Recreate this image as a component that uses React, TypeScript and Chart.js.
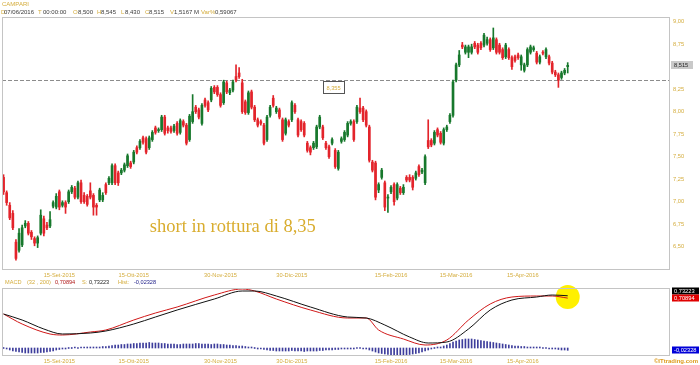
import React, { useEffect, useRef } from 'react';
import { Chart, registerables } from 'chart.js';

Chart.register(...registerables);

// ---------- DATA ----------
const opens = [
  7.27, 7.10, 6.96, 6.87, 6.55, 6.46, 6.52, 6.73, 6.76, 6.66,
  6.59, 6.54, 6.65, 6.81, 6.74, 6.73, 6.95, 6.94, 7.11, 6.96,
  6.99, 7.00, 7.11, 7.15, 7.05, 7.21, 7.07, 7.06, 7.12, 7.07,
  6.96, 7.02, 7.02, 7.19, 7.21, 7.21, 7.40, 7.32, 7.32, 7.35,
  7.40, 7.43, 7.44, 7.60, 7.60, 7.71, 7.70, 7.60, 7.69, 7.82,
  7.79, 7.80, 7.94, 7.82, 7.82, 7.79, 7.87, 7.77, 7.89, 7.85,
  7.69, 7.89, 8.05, 8.02, 7.87, 8.13, 8.10, 8.13, 8.27, 8.27,
  8.19, 8.10, 8.32, 8.21, 8.24, 8.39, 8.43, 8.32, 8.11, 7.99,
  8.22, 8.05, 7.91, 7.89, 7.85, 7.69, 7.96, 8.15, 8.00, 8.02,
  7.91, 7.76, 7.89, 7.91, 8.07, 7.91, 7.89, 7.87, 7.65, 7.60,
  7.60, 7.61, 7.83, 7.83, 7.65, 7.61, 7.65, 7.57, 7.37, 7.67,
  7.69, 7.74, 7.87, 7.89, 7.89, 8.04, 8.04, 8.00, 7.83, 7.44,
  7.43, 7.13, 7.27, 7.21, 7.04, 7.11, 7.19, 7.04, 7.15, 7.10,
  7.27, 7.27, 7.27, 7.26, 7.39, 7.33, 7.21, 7.68, 7.68, 7.65,
  7.80, 7.76, 7.65, 7.80, 7.89, 7.96, 8.35, 8.52, 8.74, 8.66,
  8.66, 8.66, 8.76, 8.74, 8.76, 8.74, 8.76, 8.80, 8.71, 8.80,
  8.74, 8.69, 8.61, 8.69, 8.60, 8.61, 8.63, 8.52, 8.46, 8.52,
  8.66, 8.69, 8.65, 8.55, 8.66, 8.61, 8.61, 8.54, 8.44, 8.41,
  8.38, 8.43, 8.50,
];
const closes = [
  7.11, 6.99, 6.82, 6.71, 6.37, 6.65, 6.71, 6.76, 6.65, 6.61,
  6.54, 6.60, 6.85, 6.65, 6.71, 6.80, 6.99, 7.06, 6.94, 6.99,
  6.94, 7.11, 7.16, 7.05, 7.21, 7.00, 7.00, 6.97, 7.05, 6.94,
  6.94, 7.13, 7.07, 7.10, 7.26, 7.40, 7.21, 7.21, 7.35, 7.41,
  7.51, 7.39, 7.55, 7.55, 7.67, 7.66, 7.55, 7.71, 7.77, 7.77,
  7.80, 7.94, 7.76, 7.79, 7.78, 7.84, 7.76, 7.90, 7.85, 7.65,
  7.95, 8.00, 8.00, 7.94, 8.07, 8.07, 8.02, 8.26, 8.22, 8.19,
  8.07, 8.33, 8.22, 8.24, 8.33, 8.35, 8.39, 8.00, 7.99, 8.21,
  8.05, 7.91, 7.85, 7.87, 7.65, 7.94, 8.05, 8.07, 8.04, 7.94,
  7.69, 7.91, 7.85, 8.10, 8.00, 7.74, 7.80, 7.74, 7.57, 7.55,
  7.65, 7.83, 7.94, 7.71, 7.60, 7.50, 7.69, 7.39, 7.55, 7.70,
  7.77, 7.87, 7.89, 7.69, 8.05, 8.00, 7.91, 7.85, 7.46, 7.35,
  7.05, 7.19, 7.35, 6.94, 7.05, 7.16, 7.00, 7.19, 7.10, 7.16,
  7.24, 7.24, 7.16, 7.32, 7.30, 7.35, 7.50, 7.61, 7.63, 7.77,
  7.74, 7.66, 7.80, 7.83, 7.96, 8.33, 8.52, 8.63, 8.72, 8.72,
  8.72, 8.72, 8.72, 8.66, 8.71, 8.85, 8.80, 8.69, 8.82, 8.66,
  8.66, 8.60, 8.74, 8.60, 8.50, 8.57, 8.60, 8.61, 8.52, 8.69,
  8.72, 8.71, 8.55, 8.61, 8.65, 8.69, 8.54, 8.44, 8.41, 8.35,
  8.43, 8.46, 8.515,
];
const highs = [
  7.30, 7.12, 6.99, 6.90, 6.58, 6.70, 6.74, 6.79, 6.78, 6.68,
  6.61, 6.62, 6.91, 6.84, 6.77, 6.89, 7.01, 7.09, 7.13, 7.01,
  7.01, 7.13, 7.18, 7.17, 7.23, 7.24, 7.10, 7.08, 7.21, 7.09,
  6.98, 7.15, 7.10, 7.21, 7.28, 7.42, 7.42, 7.34, 7.37, 7.43,
  7.53, 7.45, 7.57, 7.62, 7.69, 7.73, 7.72, 7.73, 7.79, 7.84,
  7.82, 7.96, 7.96, 7.84, 7.84, 7.86, 7.89, 7.92, 7.91, 7.87,
  7.97, 8.19, 8.07, 8.04, 8.09, 8.15, 8.12, 8.28, 8.29, 8.29,
  8.21, 8.35, 8.34, 8.26, 8.35, 8.52, 8.49, 8.36, 8.13, 8.23,
  8.24, 8.07, 7.93, 7.91, 7.87, 7.96, 8.07, 8.18, 8.06, 8.04,
  7.93, 7.93, 7.91, 8.12, 8.09, 7.93, 7.91, 7.89, 7.67, 7.62,
  7.67, 7.85, 7.96, 7.85, 7.67, 7.63, 7.71, 7.59, 7.57, 7.72,
  7.79, 7.89, 7.91, 7.91, 8.07, 8.15, 8.06, 8.02, 7.85, 7.46,
  7.45, 7.21, 7.37, 7.23, 7.08, 7.18, 7.21, 7.21, 7.17, 7.19,
  7.29, 7.30, 7.29, 7.34, 7.41, 7.37, 7.52, 7.91, 7.70, 7.79,
  7.82, 7.78, 7.82, 7.85, 7.98, 8.35, 8.54, 8.68, 8.77, 8.74,
  8.74, 8.75, 8.78, 8.76, 8.78, 8.87, 8.83, 8.82, 8.93, 8.82,
  8.76, 8.71, 8.76, 8.71, 8.62, 8.63, 8.65, 8.63, 8.54, 8.71,
  8.74, 8.73, 8.67, 8.63, 8.68, 8.71, 8.63, 8.56, 8.46, 8.43,
  8.45, 8.48, 8.545,
];
const lows = [
  7.08, 6.96, 6.80, 6.69, 6.35, 6.44, 6.50, 6.71, 6.63, 6.58,
  6.51, 6.49, 6.63, 6.62, 6.69, 6.71, 6.93, 6.92, 6.91, 6.94,
  6.87, 6.98, 7.09, 7.03, 7.03, 6.98, 6.98, 6.95, 7.03, 6.85,
  6.85, 7.00, 7.00, 7.08, 7.19, 7.19, 7.19, 7.18, 7.30, 7.33,
  7.38, 7.37, 7.42, 7.53, 7.58, 7.64, 7.53, 7.58, 7.67, 7.75,
  7.77, 7.78, 7.74, 7.76, 7.76, 7.77, 7.74, 7.75, 7.83, 7.63,
  7.67, 7.87, 7.98, 7.92, 7.85, 8.05, 8.00, 8.11, 8.20, 8.17,
  8.05, 8.08, 8.20, 8.19, 8.22, 8.33, 8.37, 7.98, 7.97, 7.97,
  8.03, 7.89, 7.83, 7.85, 7.63, 7.67, 7.94, 8.05, 7.98, 7.92,
  7.67, 7.74, 7.83, 7.89, 7.98, 7.72, 7.78, 7.72, 7.55, 7.52,
  7.58, 7.59, 7.81, 7.69, 7.58, 7.48, 7.63, 7.37, 7.35, 7.65,
  7.67, 7.72, 7.85, 7.67, 7.87, 7.98, 7.89, 7.83, 7.44, 7.33,
  7.02, 7.10, 7.25, 6.90, 6.88, 7.09, 6.96, 7.02, 7.08, 7.08,
  7.22, 7.22, 7.13, 7.24, 7.28, 7.31, 7.19, 7.59, 7.61, 7.63,
  7.72, 7.64, 7.63, 7.78, 7.87, 7.94, 8.33, 8.50, 8.70, 8.64,
  8.60, 8.64, 8.70, 8.64, 8.69, 8.72, 8.74, 8.67, 8.69, 8.64,
  8.64, 8.58, 8.59, 8.58, 8.47, 8.55, 8.58, 8.46, 8.44, 8.50,
  8.64, 8.67, 8.53, 8.53, 8.63, 8.59, 8.52, 8.42, 8.39, 8.27,
  8.36, 8.41, 8.43,
];

// MACD (32,200) lines, read at candle indexes
const macdX = [0, 6, 15, 19, 28, 33, 42, 49, 56, 68, 77, 81, 88, 99, 111, 117, 121, 129, 136, 143, 150, 157, 164, 172, 177, 182];
const macdY = [0.55, 0.45, 0.35, 0.34, 0.37, 0.39, 0.49, 0.56, 0.62, 0.74, 0.80, 0.78, 0.70, 0.59, 0.51, 0.51, 0.39, 0.30, 0.24, 0.29, 0.49, 0.65, 0.72, 0.73, 0.73, 0.70894];
const signalX = [0, 6, 13, 19, 28, 33, 42, 49, 56, 68, 77, 81, 88, 99, 111, 117, 123, 131, 137, 143, 150, 157, 164, 172, 177, 182];
const signalY = [0.55, 0.49, 0.40, 0.35, 0.36, 0.38, 0.45, 0.52, 0.59, 0.70, 0.78, 0.78, 0.73, 0.62, 0.52, 0.51, 0.44, 0.32, 0.26, 0.27, 0.40, 0.59, 0.69, 0.72, 0.74, 0.73223];
const histVals = [
  0, -0.01, -0.02, -0.03, -0.035, -0.04, -0.045, -0.05, -0.05, -0.05,
  -0.05, -0.05, -0.045, -0.045, -0.04, -0.035, -0.03, -0.02, -0.015, -0.01,
  -0.005, 0, 0, 0.005, 0, 0.005, 0.005, 0.01, 0.005, 0.01,
  0.01, 0.01, 0.015, 0.015, 0.02, 0.025, 0.03, 0.03, 0.035, 0.035,
  0.04, 0.04, 0.045, 0.045, 0.05, 0.05, 0.05, 0.055, 0.05, 0.05,
  0.05, 0.045, 0.045, 0.04, 0.04, 0.04, 0.035, 0.035, 0.04, 0.04,
  0.04, 0.04, 0.045, 0.045, 0.04, 0.04, 0.04, 0.035, 0.04, 0.04,
  0.035, 0.035, 0.03, 0.03, 0.025, 0.025, 0.02, 0.02, 0.015, 0.01,
  0.005, 0, -0.005, -0.01, -0.015, -0.02, -0.025, -0.025, -0.03, -0.03,
  -0.03, -0.03, -0.03, -0.025, -0.03, -0.03, -0.03, -0.035, -0.03, -0.03,
  -0.03, -0.03, -0.025, -0.025, -0.02, -0.02, -0.02, -0.015, -0.015, -0.01,
  -0.01, -0.01, -0.005, -0.005, 0, 0, -0.005, -0.01, -0.02, -0.03,
  -0.04, -0.05, -0.055, -0.06, -0.065, -0.07, -0.075, -0.075, -0.08, -0.075,
  -0.07, -0.065, -0.06, -0.055, -0.05, -0.04, -0.03, -0.02, -0.01, 0,
  0.005, 0.01, 0.02, 0.03, 0.045, 0.06, 0.07, 0.08, 0.085, 0.09,
  0.09, 0.09, 0.085, 0.08, 0.075, 0.07, 0.065, 0.06, 0.055, 0.05,
  0.045, 0.04, 0.035, 0.03, 0.025, 0.02, 0.02, 0.015, 0.015, 0.01,
  0.01, 0.01, 0.005, 0.005, 0, 0, -0.005, -0.01, -0.01, -0.015,
  -0.02, -0.02, -0.02328,
];

const xTickIdx = [18, 42, 70, 93, 125, 146, 167.5];
const xTickLabels = ['15-Set-2015', '15-Ott-2015', '30-Nov-2015', '30-Dic-2015', '15-Feb-2016', '15-Mar-2016', '15-Apr-2016'];
const yTicks = [6.5, 6.75, 7.0, 7.25, 7.5, 7.75, 8.0, 8.25, 8.5, 8.75, 9.0];
const breakLevel = 8.355;
const breakLabel = '8,355';
const lastPriceLabel = '8,515';
const annotationText = 'short in rottura di 8,35';
const titleText = 'CAMPARI';
const headerParts: [string, boolean, number][] = [
  ['D', true, 0], ['07/06/2016', false, 3], ['T', true, 37], ['00:00:00', false, 42],
  ['O', true, 72], ['8,500', false, 77], ['H', true, 96], ['8,545', false, 100],
  ['L', true, 120], ['8,430', false, 124], ['C', true, 144], ['8,515', false, 148],
  ['V', true, 169], ['1,5167 M', false, 173], ['Var%', true, 200], ['0,59067', false, 214],
];
const macdHeaderParts: [string, string, number][] = [
  ['MACD', 'gold', 5], ['(32 , 200)', 'gold', 27], ['0,70894', 'red', 55], ['S:', 'gold', 82],
  ['0,73223', 'dark', 89], ['Hist:', 'gold', 118], ['-0,02328', 'blue', 134],
];

// ---------- STYLE ----------
const GOLD = '#d4ac3c';
const DARK = '#3a3a3a';
const GREEN = '#17782c';
const RED = '#e3242b';
const HIST = '#3d3d9c';
const FRAME = '#c4c4c4';
const SANS = '"Liberation Sans", Arial, sans-serif';
const X_MIN = -0.5;
const X_MAX = 215;

const fmt = (v: number, d: number) => v.toFixed(d).replace('.', ',');

function xScale(height: number) {
  return {
    type: 'linear',
    min: X_MIN,
    max: X_MAX,
    offset: false,
    grid: { display: false, drawTicks: false },
    border: { display: false },
    afterBuildTicks: (s: any) => { s.ticks = xTickIdx.map((v) => ({ value: v })); },
    afterFit: (s: any) => { s.height = height; },
    ticks: {
      autoSkip: false, maxRotation: 0, minRotation: 0, padding: 2,
      color: GOLD, font: { size: 5.7, family: SANS },
      callback: (_v: any, i: number) => xTickLabels[i],
    },
  };
}

function strokeFrame(ctx: CanvasRenderingContext2D, a: any) {
  ctx.save();
  ctx.strokeStyle = FRAME;
  ctx.lineWidth = 1;
  ctx.strokeRect(Math.round(a.left) + 0.5, Math.round(a.top) + 0.5, Math.round(a.right - a.left) - 1, Math.round(a.bottom - a.top) - 1);
  ctx.restore();
}

const mainDecor = {
  id: 'mainDecor',
  beforeDatasetsDraw(chart: any) {
    const { ctx, chartArea: a, scales } = chart;
    const y = Math.round(scales.y.getPixelForValue(breakLevel)) + 0.5;
    ctx.save();
    ctx.strokeStyle = '#8c8c8c';
    ctx.lineWidth = 1;
    ctx.setLineDash([4, 2]);
    ctx.beginPath();
    ctx.moveTo(a.left, y);
    ctx.lineTo(a.right, y);
    ctx.stroke();
    ctx.restore();
  },
  afterDraw(chart: any) {
    const { ctx, chartArea: a, scales } = chart;
    strokeFrame(ctx, a);
    ctx.save();
    // header
    ctx.font = `6px ${SANS}`;
    ctx.textBaseline = 'middle';
    ctx.textAlign = 'left';
    ctx.fillStyle = GOLD;
    ctx.fillText(titleText, 2, 4.5);
    headerParts.forEach(([t, isKey, x]) => {
      ctx.fillStyle = isKey ? GOLD : DARK;
      ctx.fillText(t, x + 1, 12);
    });
    // break level label box
    const bx = scales.x.getPixelForValue(106.3);
    const by = scales.y.getPixelForValue(breakLevel);
    ctx.fillStyle = '#ffffff';
    ctx.fillRect(Math.round(bx - 10.5), Math.round(by) + 1, 21, 12);
    ctx.strokeStyle = '#555555';
    ctx.lineWidth = 1;
    ctx.strokeRect(Math.round(bx - 10.5) + 0.5, Math.round(by) + 1.5, 21, 12);
    ctx.fillStyle = GOLD;
    ctx.textAlign = 'center';
    ctx.font = `5.7px ${SANS}`;
    ctx.fillText(breakLabel, Math.round(bx) + 0.5, Math.round(by) + 8);
    // annotation text
    ctx.textAlign = 'left';
    ctx.textBaseline = 'alphabetic';
    ctx.fillStyle = '#d9ad2f';
    ctx.font = `18.5px "Liberation Serif", "Times New Roman", serif`;
    ctx.fillText(annotationText, scales.x.getPixelForValue(47.2), scales.y.getPixelForValue(6.66));
    // last price box
    const last = closes[closes.length - 1];
    const py = scales.y.getPixelForValue(last);
    ctx.fillStyle = '#c9c9c9';
    ctx.fillRect(a.right + 1, Math.round(py) - 4, 22, 8);
    ctx.fillStyle = '#222222';
    ctx.font = `5.7px ${SANS}`;
    ctx.textBaseline = 'middle';
    ctx.textAlign = 'left';
    ctx.fillText(lastPriceLabel, a.right + 4, Math.round(py));
    ctx.restore();
  },
};

const macdDecor = {
  id: 'macdDecor',
  beforeDatasetsDraw(chart: any) {
    const { ctx, scales } = chart;
    const cx = scales.x.getPixelForValue(macdX[macdX.length - 1]);
    const cy = scales.yl.getPixelForValue(0.72);
    ctx.save();
    ctx.fillStyle = '#fff000';
    ctx.beginPath();
    ctx.arc(cx, cy, 12, 0, Math.PI * 2);
    ctx.fill();
    ctx.restore();
  },
  afterDraw(chart: any) {
    const { ctx, chartArea: a, scales } = chart;
    strokeFrame(ctx, a);
    ctx.save();
    ctx.font = `5.6px ${SANS}`;
    ctx.textBaseline = 'middle';
    ctx.textAlign = 'left';
    const colorOf: Record<string, string> = { gold: GOLD, red: '#b01818', dark: '#222222', blue: '#22228a' };
    macdHeaderParts.forEach(([t, c, x]) => {
      ctx.fillStyle = colorOf[c];
      ctx.fillText(t, x, 2.5);
    });
    // right value boxes
    const lastM = macdY[macdY.length - 1];
    const lastS = signalY[signalY.length - 1];
    const lastH = histVals[histVals.length - 1];
    const ry = Math.round(scales.yl.getPixelForValue(lastM));
    const sy = ry - 7;
    const hy = Math.round(scales.yh.getPixelForValue(lastH));
    const boxes: [number, string, string][] = [
      [sy, '#000000', fmt(lastS, 5)],
      [ry, '#e00000', fmt(lastM, 5)],
      [hy, '#0000d8', fmt(lastH, 5)],
    ];
    ctx.font = `5.7px ${SANS}`;
    boxes.forEach(([y, bg, t]) => {
      ctx.fillStyle = bg;
      ctx.fillRect(a.right + 2, y - 3.5, 27, 7);
      ctx.fillStyle = '#ffffff';
      ctx.fillText(t, a.right + 4, y);
    });
    // watermark
    ctx.textAlign = 'right';
    ctx.fillStyle = '#dd9a1a';
    ctx.font = `bold 6px ${SANS}`;
    ctx.fillText('\u00a9ITtrading.com', 698, 81);
    ctx.restore();
  },
};

export default function App() {
  const mainRef = useRef<HTMLCanvasElement>(null);
  const macdRef = useRef<HTMLCanvasElement>(null);

  useEffect(() => {
    document.body.style.margin = '0';
    const idx = opens.map((_, i) => i);
    const wickData = idx.map((i) => ({ x: i, y: [lows[i], highs[i]] }));
    const bodyData = idx.map((i) => ({ x: i, y: [Math.min(opens[i], closes[i]), Math.max(opens[i], closes[i])] }));
    const colors = idx.map((i) => (closes[i] >= opens[i] ? GREEN : RED));

    const main = new Chart(mainRef.current as HTMLCanvasElement, {
      type: 'bar',
      data: {
        datasets: [
          { data: bodyData as any, backgroundColor: colors, barThickness: 2, minBarLength: 1, grouped: false, borderWidth: 0 } as any,
          { data: wickData as any, backgroundColor: colors, barThickness: 1, grouped: false, borderWidth: 0 } as any,
        ],
      },
      options: {
        responsive: false,
        animation: false,
        layout: { padding: { top: 17, left: 2, right: 0, bottom: 0 } },
        plugins: { legend: { display: false }, tooltip: { enabled: false } },
        scales: {
          x: xScale(10) as any,
          y: {
            position: 'right',
            min: 6.241,
            max: 9.052,
            grid: { display: false, drawTicks: false },
            border: { display: false },
            afterBuildTicks: (s: any) => { s.ticks = yTicks.map((v) => ({ value: v })); },
            afterFit: (s: any) => { s.width = 30; },
            ticks: { padding: 3, color: GOLD, font: { size: 5.7, family: SANS }, callback: (v: any) => fmt(Number(v), 2) },
          } as any,
        },
      },
      plugins: [mainDecor],
    });

    const histData = histVals.map((v, i) => ({ x: i, y: v }));
    const macd = new Chart(macdRef.current as HTMLCanvasElement, {
      type: 'bar',
      data: {
        datasets: [
          { type: 'line', data: signalX.map((x, i) => ({ x, y: signalY[i] })), yAxisID: 'yl', borderColor: '#111111', borderWidth: 1, pointRadius: 0, cubicInterpolationMode: 'monotone', fill: false } as any,
          { type: 'line', data: macdX.map((x, i) => ({ x, y: macdY[i] })), yAxisID: 'yl', borderColor: '#d01818', borderWidth: 1, pointRadius: 0, cubicInterpolationMode: 'monotone', fill: false } as any,
          { type: 'bar', data: histData as any, yAxisID: 'yh', backgroundColor: HIST, barThickness: 1, minBarLength: 1, borderWidth: 0 } as any,
        ],
      },
      options: {
        responsive: false,
        animation: false,
        layout: { padding: { top: 8, left: 2, right: 30, bottom: 0 } },
        plugins: { legend: { display: false }, tooltip: { enabled: false } },
        scales: {
          x: xScale(9) as any,
          yl: { display: false, min: 0.13, max: 0.81 } as any,
          yh: { display: false, min: -0.08, max: 0.60 } as any,
        },
      },
      plugins: [macdDecor],
    });

    return () => {
      main.destroy();
      macd.destroy();
    };
  }, []);

  return (
    <div style={{ position: 'fixed', left: 0, top: 0, width: 700, height: 365, background: '#ffffff', overflow: 'hidden' }}>
      <canvas ref={mainRef} width={700} height={280} style={{ position: 'absolute', left: 0, top: 0, width: 700, height: 280 }} />
      <canvas ref={macdRef} width={700} height={85} style={{ position: 'absolute', left: 0, top: 280, width: 700, height: 85 }} />
    </div>
  );
}
